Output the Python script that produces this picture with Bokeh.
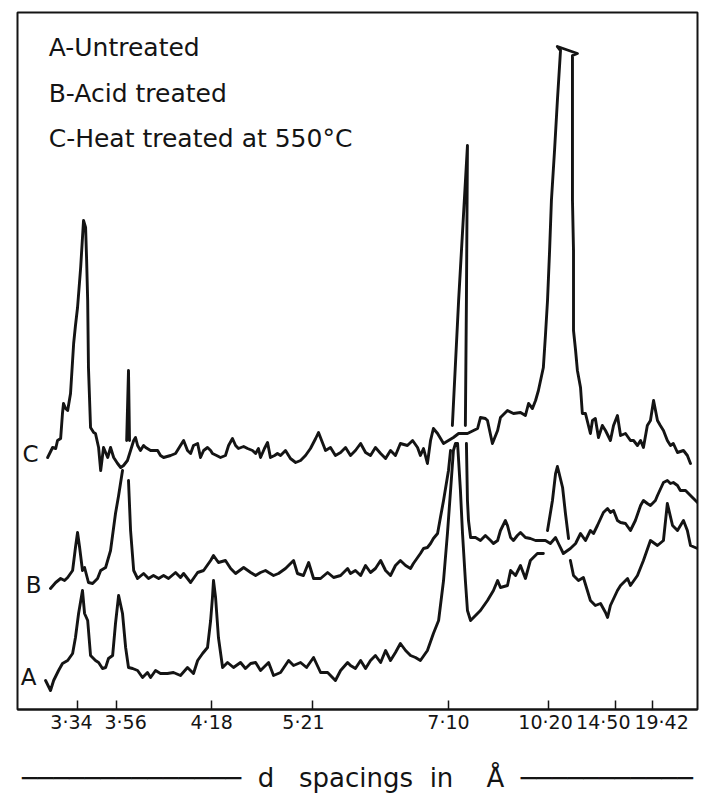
from bokeh.plotting import figure
from bokeh.models import Range1d, FixedTicker, Label, ColumnDataSource
from bokeh.embed import file_html
from bokeh.resources import INLINE
from bokeh.core.properties import value

NaN = float("nan")   # pen lifted where a trace crosses another one

# ---- axis ticks (2-theta positions, labelled in d-spacing, Angstrom)
tick_2theta = [26.69, 25.19, 21.53, 17.65, 12.42, 8.57, 6.00, 4.57]
tick_labels = ["3·34", "3·56", "4·18", "5·21", "7·10", "10·20", "14·50", "19·42"]

# ---- trace C : heat treated at 550 C
c_2theta = [27.84, 27.65, 27.53, 27.46, 27.34, 27.27, 27.23, 27.15, 27.07, 26.96, 26.84, 26.77, 26.69,
            26.57, 26.46, 26.38, 26.34, 26.30, 26.27, 26.19, 26.07, 26.00, 25.88, 25.80, 25.69, 25.53,
            25.42, 25.30, 25.15, 25.03, 24.92, 24.77, 24.65, 24.53, 24.46, 24.38, 24.27, 24.15, 24.07,
            23.88, 23.61, 23.50, 23.38, 23.11, 22.92, 22.73, 22.61, 22.46, 22.34, 22.23, 22.07, 21.96,
            21.84, 21.69, 21.57, 21.50, 21.34, 21.19, 21.00, 20.88, 20.73, 20.61, 20.50, 20.30, 20.15,
            19.96, 19.84, 19.73, 19.65, 19.50, 19.38, 19.27, 19.11, 19.00, 18.88, 18.69, 18.50, 18.30,
            18.11, 17.92, 17.73, 17.53, 17.42, 17.30, 17.15, 16.96, 16.77, 16.57, 16.38, 16.19, 16.00,
            15.80, 15.61, 15.42, 15.23, 15.03, 14.84, 14.65, 14.46, 14.27, 14.00, 13.80, 13.61, 13.50,
            13.38, 13.23, 13.11, 13.00, 12.84, 12.61, 12.23, 12.03, 11.69, 11.30, 11.19, 11.00, 10.92,
            10.73, 10.53, 10.42, 10.15, 9.92, 9.65, 9.46, 9.34, 9.19, 9.07, 8.96, 8.77, 8.69, 8.61,
            8.53, 8.46, 8.34, 8.23, 8.11, 8.23, 7.46, 7.65, 7.65, 7.65, 7.65, 7.61, 7.61, 7.61, 7.53,
            7.46, 7.34, 7.27, 7.15, 6.96, 6.88, 6.77, 6.65, 6.50, 6.38, 6.19, 6.07, 5.92, 5.80, 5.61,
            5.42, 5.30, 5.15, 5.03, 4.92, 4.77, 4.65, 4.53, 4.38, 4.27, 4.15, 4.00, 3.88, 3.77, 3.61,
            3.38, 3.23, 3.11, 2.84]
c_counts = [252, 262, 261, 269, 271, 296, 306, 301, 299, 316, 366, 384, 402,
            442, 489, 482, 449, 409, 342, 282, 277, 276, 262, 239, 262, 252,
            262, 252, 246, 242, 244, 249, 259, 269, 272, 264, 259, 264, 262,
            259, 259, 254, 252, 254, 256, 264, 269, 259, 256, 264, 266, 252,
            259, 262, 259, 256, 254, 252, 254, 264, 271, 264, 261, 263, 261,
            259, 256, 261, 252, 261, 267, 252, 254, 256, 254, 259, 251, 247,
            249, 254, 261, 271, 277, 269, 259, 262, 254, 257, 262, 254, 259,
            266, 257, 254, 262, 256, 251, 259, 254, 266, 264, 269, 262, 254,
            261, 246, 269, 281, 276, 266, 272, 276, 276, 281, 292, 291, 289,
            266, 279, 292, 299, 296, 297, 294, 306, 301, 309, 319, 342, 374, 409,
            459, 509, 559, 609, 659, 663, 656, 654, 609, 559, 509, 459, 409, 379,
            359, 339, 322, 296, 296, 276, 289, 291, 272, 284, 279, 269, 284, 294, 274,
            276, 269, 269, 264, 269, 262, 284, 289, 309, 289, 284, 279, 269, 264, 266,
            257, 259, 254, 246]

# ---- trace B : acid treated
b_2theta = [27.73, 27.53, 27.34, 27.19, 27.07, 26.88, 26.77, 26.69, 26.61, 26.50, 26.42, 26.27, 26.11,
            25.92, 25.80, 25.61, 25.42, 25.23, 25.11, 24.96, NaN, 24.80, 24.73, 24.69, NaN, 24.73, 24.65,
            24.53,
            24.38, 24.15, 23.96, 23.77, 23.57, 23.38, 23.19, 22.92, 22.73, 22.61, 22.34, 22.07, 21.84,
            21.57, 21.46, 21.27, 21.00, 20.80, 20.61, 20.30, 20.03, 19.84, 19.65, 19.46, 19.34, 19.15,
            18.96, 18.69, 18.38, 18.23, 18.00, 17.80, 17.61, 17.34, 17.07, 16.84, 16.57, 16.30, 16.19,
            16.00, 15.80, 15.61, 15.42, 15.23, 15.03, 14.84, 14.65, 14.46, 14.27, 14.07, 13.88, 13.77,
            13.50, 13.38, 13.23, 13.11, 13.00, 12.84, 12.73, 12.61, 12.42, 12.34, NaN, 12.27, 12.03,
            11.69, 11.73, 11.77, NaN, 11.73, 11.69, 11.65, 11.57, 11.38, 11.19, 11.00, 10.80, 10.69,
            10.53, 10.42,
            10.23, 10.15, 10.03, 9.92, 9.77, 9.65, 9.46, 9.27, 9.07, 8.88, 8.69, 8.50, 8.30, 8.19,
            8.00, 7.84, 7.73, 7.53, 7.34, 7.15, 6.96, 6.84, 6.69, 6.46, 6.30, 6.19, 6.07, 5.92, 5.80,
            5.61, 5.42, 5.23, 5.03, 4.92, 4.77, 4.65, 4.46, 4.38, 4.15, 4.00, 3.88, 3.77, 3.61, 3.50,
            3.30, 3.11, 2.84]
b_counts = [121, 127, 131, 129, 132, 139, 162, 177, 162, 139, 142, 127, 126,
            131, 139, 142, 159, 196, 214, 239, NaN, 269, 339, 269, NaN, 229, 179,
            139,
            131, 136, 131, 134, 131, 134, 131, 137, 132, 136, 127, 137, 139,
            149, 154, 147, 149, 141, 136, 142, 137, 134, 137, 139, 137, 134,
            136, 141, 149, 136, 134, 147, 131, 131, 137, 132, 134, 141, 136,
            139, 134, 144, 137, 141, 149, 139, 134, 144, 149, 144, 141, 146,
            156, 161, 162, 166, 171, 176, 192, 209, 239, 259, NaN, 284, 409,
            564, 409, 284, NaN, 266, 209, 189, 172, 172, 169, 174, 169, 166,
            169, 179,
            189, 184, 172, 169, 174, 177, 172, 171, 169, 169, 169, 166, 172, 166,
            156, 159, 161, 166, 176, 169, 179, 176, 184, 197, 201, 197, 199, 189, 187,
            186, 179, 189, 204, 209, 206, 204, 209, 214, 227, 229, 226, 227, 224, 219,
            219, 214, 207]

# ---- trace A : untreated
a_2theta = [27.92, 27.73, 27.61, 27.42, 27.27, 27.07, 26.88, 26.77, 26.65, 26.50, 26.42, 26.30, 26.19,
            26.00, 25.88, 25.73, 25.61, 25.50, 25.34, 25.23, 25.11, 24.96, 24.84, 24.73, 24.57, 24.38,
            24.19, 24.00, 23.88, 23.69, 23.50, 23.23, 23.00, 22.73, 22.46, 22.23, 22.07, 21.88, 21.69,
            21.57, 21.50, 21.46, 21.38, 21.27, 21.11, 20.92, 20.69, 20.42, 20.23, 20.03, 19.84, 19.65,
            19.34, 19.15, 18.88, 18.57, 18.38, 18.11, 17.88, 17.61, 17.34, 17.07, 16.77, 16.57, 16.30,
            16.19, 16.00, 15.80, 15.61, 15.42, 15.23, 15.03, 14.84, 14.65, 14.46, 14.27, 14.07, 13.88,
            13.69, 13.50, 13.23, 13.00, 12.80, 12.61, 12.46, 12.34, 12.23, 12.15, 12.07, 11.96, 11.88,
            11.77, 11.69, 11.57, 11.38, 11.19, 10.92, 10.69, 10.53, 10.42, 10.15, 10.03, 9.84, 9.65,
            9.46, 9.27, 9.00, 8.77, NaN, 8.61, 8.42, 8.30, 8.23, 8.19, 8.03, 7.92, 7.80, NaN, 7.73,
            7.61, 7.42,
            7.23, 6.96, 6.77, 6.57, 6.38, 6.30, 6.19, 5.92, 5.80, 5.53, 5.42, 5.15, 4.92, 4.65, 4.38,
            4.15, 4.00, 3.80, 3.61, 3.38, 3.23, 3.11, 2.84]
a_counts = [29, 19, 29, 39, 46, 49, 56, 72, 96, 119, 96, 89, 54,
            49, 47, 41, 42, 51, 54, 86, 114, 96, 62, 42, 41, 39,
            32, 37, 32, 39, 36, 36, 37, 34, 42, 36, 49, 56, 62,
            89, 112, 129, 112, 72, 42, 47, 42, 47, 41, 46, 47, 39,
            47, 34, 37, 49, 44, 47, 42, 52, 37, 37, 29, 39, 47,
            44, 41, 49, 41, 49, 54, 47, 59, 49, 57, 66, 59, 54,
            52, 49, 59, 76, 89, 129, 176, 219, 259, 266, 266, 219, 176,
            129, 99, 89, 94, 99, 109, 119, 129, 122, 124, 139, 134, 144,
            131, 149, 156, 156, NaN, 179, 209, 236, 243, 239, 222, 196, 171, NaN, 149,
            134, 129,
            132, 109, 104, 106, 97, 92, 104, 119, 124, 131, 124, 134, 149, 169, 164,
            169, 206, 184, 179, 189, 179, 164, 161]

trace_names = ["A", "B", "C"]
legend_lines = ["A-Untreated", "B-Acid treated", "C-Heat treated at 550°C"]

FONT = "DejaVu Sans"
INK = "#141414"
NB = "\u00a0"

p = figure(width=701, height=800,
           x_range=Range1d(29.0, 2.84), y_range=Range1d(0, 697),
           output_backend="svg", toolbar_location=None,
           y_axis_location=None, x_axis_location="below",
           min_border_left=17, min_border_right=4, min_border_top=12, min_border_bottom=91)

p.background_fill_color = "white"
p.border_fill_color = "white"
p.grid.visible = False
p.outline_line_color = INK
p.outline_line_width = 2

ax = p.xaxis[0]
ax.ticker = FixedTicker(ticks=tick_2theta)
# hand-lettered labels sit slightly off their tick marks: nudge with non-breaking padding
pad_left = [0, 3, 0, 0, 0, 0, 0, 3]
pad_right = [2, 0, 0, 3, 0, 1, 4, 0]
ax.major_label_overrides = {t: NB * pl + l + NB * pr
                            for t, l, pl, pr in zip(tick_2theta, tick_labels, pad_left, pad_right)}
ax.axis_line_color = INK
ax.axis_line_width = 2
ax.major_tick_in = 9
ax.major_tick_out = 0
ax.major_tick_line_width = 1.5
ax.major_tick_line_color = INK
ax.minor_tick_line_color = None
ax.major_label_text_font = FONT
ax.major_label_text_font_size = "19px"
ax.major_label_text_color = INK
ax.major_label_standoff = 1
ax.axis_label = ("\u2500" * 14 + NB * 2 + "d" + NB * 3 + "spacings" + NB * 2 + "in"
                 + NB * 4 + "Å" + NB * 2 + "\u2500" * 11)
ax.axis_label_text_font = FONT
ax.axis_label_text_font_style = "normal"
ax.axis_label_text_font_size = "26px"
ax.axis_label_text_color = INK
ax.axis_label_standoff = 27

for xs, ys in [(a_2theta, a_counts), (b_2theta, b_counts), (c_2theta, c_counts)]:
    p.line(xs, ys, line_color=INK, line_width=2.9, line_join="round", line_cap="round")

# trace letters at the start of each trace
name_src = ColumnDataSource(dict(
    x=[a_2theta[0], b_2theta[0], c_2theta[0]],
    y=[a_counts[0], b_counts[0], c_counts[0]],
    t=trace_names))
p.text(x="x", y="y", text="t", source=name_src, text_font=value(FONT), text_font_size="23px",
       text_color=INK, text_align="right", text_baseline="middle", x_offset=-9, y_offset=-4)

# legend text block (top-left)
leg_x = 27.80
leg_y = [662, 616, 571]
for ty, txt in zip(leg_y, legend_lines):
    p.add_layout(Label(x=leg_x, y=ty, text=txt, text_font=FONT, text_font_size="25px",
                       text_color=INK, text_baseline="alphabetic", text_align="left"))

open("out.html", "w").write(file_html(p, INLINE))
